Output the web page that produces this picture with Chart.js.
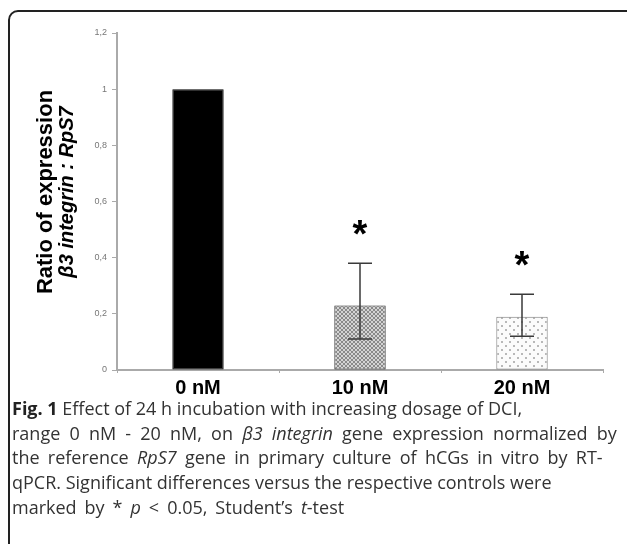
<!DOCTYPE html>
<html>
<head>
<meta charset="utf-8">
<script src="https://cdn.jsdelivr.net/npm/chart.js@4"></script>
<style>
  html, body { margin:0; padding:0; background:#fff; }
  body { width:627px; height:544px; position:relative; overflow:hidden; }
  #frame { position:absolute; left:8px; top:10px; width:640px; height:560px; border:2px solid #222; border-radius:10px; box-sizing:border-box; }
  #wrap { position:absolute; left:0; top:0; width:627px; height:400px; }
  .ytitle { position:absolute; font-family:"Liberation Sans", Arial, sans-serif; font-weight:bold; color:#000; white-space:nowrap; transform:translate(-50%,-50%) rotate(-90deg); }
  #caption { position:absolute; left:12px; top:396px; width:615px; font-family:"Open Sans", sans-serif; font-size:18px; line-height:24.7px; color:#333; white-space:nowrap; }
  #caption div { height:24.7px; }
  #caption b { color:#222; }
</style>
</head>
<body>
<div id="frame"></div>
<div id="wrap"><canvas id="c" width="627" height="400"></canvas></div>
<div class="ytitle" style="left:45px; top:192px; font-size:22px;">Ratio of expression</div>
<div class="ytitle" style="left:66px; top:192px; font-size:20px;"><i>β3 integrin : RpS7</i></div>
<div id="caption">
  <div><b>Fig. 1</b> Effect of 24 h incubation with increasing dosage of DCI,</div>
  <div style="word-spacing:4.5px;">range 0 nM - 20 nM, on <i>β3 integrin</i> gene expression normalized by</div>
  <div style="word-spacing:3.6px;">the reference <i>RpS7</i> gene in primary culture of hCGs in vitro by RT-</div>
  <div>qPCR. Significant differences versus the respective controls were</div>
  <div style="word-spacing:3.3px;">marked by * <i>p</i> &lt; 0.05, Student’s <i>t</i>-test</div>
</div>
<script>
const categories = ['0 nM', '10 nM', '20 nM'];
const ratios = [1.0, 0.23, 0.19];
const errHigh = [null, 0.38, 0.27];
const errLow = [null, 0.11, 0.12];
const sigMarks = ['', '*', '*'];
const yTicks = [0, 0.2, 0.4, 0.6, 0.8, 1, 1.2];

function makeHatch() {
  const c = document.createElement('canvas'); c.width = 4; c.height = 4;
  const g = c.getContext('2d');
  g.fillStyle = '#d4d4d4'; g.fillRect(0,0,4,4);
  g.fillStyle = '#8a8a8a';
  for (let i = 0; i < 4; i++) { g.fillRect(i, i, 1, 1); g.fillRect(3 - i, i, 1, 1); }
  return g.createPattern(c, 'repeat');
}
function makeDots() {
  const c = document.createElement('canvas'); c.width = 8; c.height = 8;
  const g = c.getContext('2d');
  g.fillStyle = '#fbfbfb'; g.fillRect(0,0,8,8);
  g.fillStyle = '#b8b8b8';
  g.fillRect(1, 1, 2, 2); g.fillRect(5, 5, 2, 2);
  return g.createPattern(c, 'repeat');
}
const ctx0 = document.getElementById('c').getContext('2d');
const fills = ['#000000', makeHatch(), makeDots()];
const borders = ['#000000', '#222222', '#7a7a7a'];

const errorPlugin = {
  id: 'errorBars',
  afterDatasetsDraw(chart) {
    const ctx = chart.ctx;
    const meta = chart.getDatasetMeta(0);
    const y = chart.scales.y;
    ctx.save();
    meta.data.forEach((bar, i) => {
      if (errHigh[i] == null) return;
      const x = bar.x;
      const yt = y.getPixelForValue(errHigh[i]);
      const yb = y.getPixelForValue(errLow[i]);
      ctx.strokeStyle = '#3a3a3a';
      ctx.lineWidth = 1.5;
      ctx.beginPath();
      ctx.moveTo(x, yt); ctx.lineTo(x, yb);
      ctx.moveTo(x - 12, yt); ctx.lineTo(x + 12, yt);
      ctx.moveTo(x - 12, yb); ctx.lineTo(x + 12, yb);
      ctx.stroke();
      if (sigMarks[i]) {
        ctx.fillStyle = '#000';
        ctx.font = 'bold 38px "Liberation Sans", Arial, sans-serif';
        ctx.textAlign = 'center';
        ctx.textBaseline = 'middle';
        ctx.fillText(sigMarks[i], x, yt - 27);
      }
    });
    ctx.restore();
  }
};

new Chart(ctx0, {
  type: 'bar',
  data: {
    labels: categories,
    datasets: [{
      data: ratios,
      backgroundColor: fills,
      borderColor: borders,
      borderWidth: 1,
      borderSkipped: false,
      categoryPercentage: 1,
      barPercentage: 0.317
    }]
  },
  options: {
    responsive: false,
    animation: false,
    events: [],
    layout: { padding: { left: 0, right: 24, top: 33, bottom: 0 } },
    plugins: { legend: { display: false }, tooltip: { enabled: false } },
    scales: {
      x: {
        grid: { display: true, drawOnChartArea: false, drawTicks: true, tickLength: 3, color: '#aaaaaa', offset: true },
        border: { display: true, color: '#aaaaaa', width: 2 },
        ticks: { color: '#000', font: { family: '"Liberation Sans", Arial, sans-serif', size: 20, weight: 'bold' }, padding: 3 },
        afterFit(s) { s.height = 30; }
      },
      y: {
        min: 0, max: 1.2,
        afterBuildTicks(s) { s.ticks = yTicks.map(v => ({ value: v })); },
        grid: { display: true, drawOnChartArea: false, drawTicks: true, tickLength: 5, color: '#aaaaaa' },
        border: { display: true, color: '#aaaaaa', width: 2 },
        ticks: {
          color: '#777',
          font: { family: '"Liberation Sans", Arial, sans-serif', size: 9 },
          padding: 5,
          callback: (v) => String(Math.round(v * 10) / 10).replace('.', ',')
        },
        afterFit(s) { s.width = 117; }
      }
    }
  },
  plugins: [errorPlugin]
});
</script>
</body>
</html>
